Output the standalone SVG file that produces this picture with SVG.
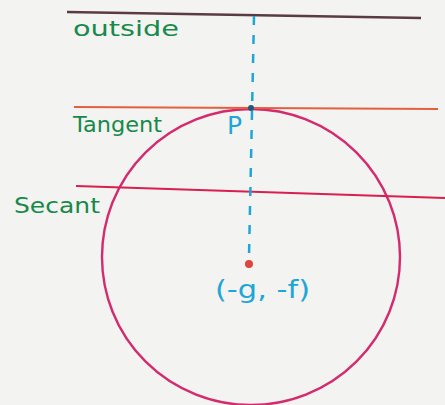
<svg xmlns="http://www.w3.org/2000/svg" width="445" height="405" viewBox="0 0 445 405">
<style>
.lbl{font-family:"DejaVu Sans",sans-serif;fill:#17894a;font-size:22px;font-weight:500}
.blue{font-family:"DejaVu Sans",sans-serif;fill:#1ea6d6;font-size:25px}
</style>
<rect width="445" height="405" fill="#f3f3f1"/>
<g id="circle"><ellipse cx="251" cy="257" rx="149" ry="148" fill="none" stroke="#d42a6e" stroke-width="2.4"/></g>
<g id="connectors">
<line id="outside-line" x1="67" y1="12" x2="421" y2="18" stroke="#5a3a44" stroke-width="2.5"/>
<line id="tangent-line" x1="74" y1="107" x2="438" y2="109" stroke="#e2603e" stroke-width="2"/>
<line id="secant-line" x1="76" y1="186" x2="445" y2="198" stroke="#d81f4f" stroke-width="2.2"/>
<line id="radius" x1="254" y1="16" x2="249" y2="256" stroke="#1ea6d6" stroke-width="2.5" stroke-dasharray="9,10"/>
</g>
<g id="P"><circle cx="251" cy="108" r="3" fill="#1a5a80"/><text class="blue" x="227" y="134" font-size="19">P</text></g>
<g id="center"><circle cx="249" cy="264" r="4" fill="#e0443a"/><text class="blue" x="215" y="298" textLength="95" lengthAdjust="spacingAndGlyphs">(-g, -f)</text></g>
<g id="outside"><text class="lbl" x="73" y="36" textLength="106" lengthAdjust="spacingAndGlyphs">outside</text></g>
<g id="tangent"><text class="lbl" x="73" y="132" textLength="89" lengthAdjust="spacingAndGlyphs">Tangent</text></g>
<g id="secant"><text class="lbl" x="14" y="213" textLength="86" lengthAdjust="spacingAndGlyphs">Secant</text></g>
</svg>
